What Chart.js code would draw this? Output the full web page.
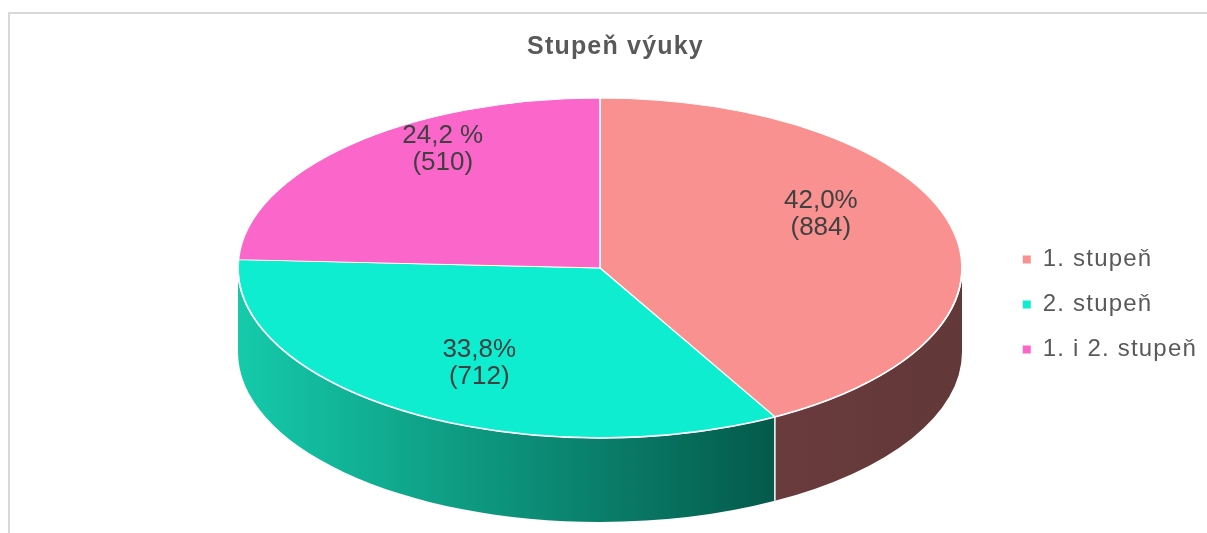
<!DOCTYPE html>
<html>
<head>
<meta charset="utf-8">
<script src="https://cdn.jsdelivr.net/npm/chart.js@4.4.1/dist/chart.umd.min.js"></script>
<style>
  html, body { margin: 0; padding: 0; background: #ffffff; }
  #wrap { position: relative; width: 1207px; height: 533px; overflow: hidden; background: #ffffff; }
  #frame { position: absolute; left: 8px; top: 12px; width: 1400px; height: 800px;
           border-left: 2px solid #d9d9d9; border-top: 2px solid #d9d9d9; }
  #c { position: absolute; left: 0; top: 0; }
</style>
</head>
<body>
<div id="wrap">
  <div id="frame"></div>
  <canvas id="c" width="1207" height="533"></canvas>
</div>
<script>
// ---- data ----
const chartTitle = 'Stupeň výuky';
const categories = ['1. stupeň', '2. stupeň', '1. i 2. stupeň'];
const counts = [884, 712, 510];
const percentLabels = ['42,0%', '33,8%', '24,2 %'];

// ---- styles ----
const topColors = ['#FA9191', '#0FEDD1', '#FB66CA'];
const sideColors = [['#6A3B3D', '#623839'], ['#15CAAA', '#045A4B'], ['#B84A93', '#7A2E62']];
const FONT = '"Liberation Sans", Arial, Helvetica, sans-serif';
const CX = 600, CY = 268, RX = 362, RY = 170, DEPTH = 84;
const K = RY / RX;
const LABEL_FX = 0.63, LABEL_FY = 0.80, LABEL_DY = -20, LABEL_LH = 27;
const TEXT_SPACING = '1.2px';

function visibleSegments(s, e) {
  const segs = [];
  for (let k = -2; k <= 2; k++) {
    const off = k * 2 * Math.PI;
    const a1 = Math.max(s + off, 0), a2 = Math.min(e + off, Math.PI);
    if (a2 > a1) segs.push([a1, a2]);
  }
  return segs;
}
function normAngle(a) {
  let r = a % (2 * Math.PI);
  if (r < 0) r += 2 * Math.PI;
  return r;
}

const pie3d = {
  id: 'pie3d',
  beforeLayout(chart) { chart.ctx.letterSpacing = TEXT_SPACING; },
  beforeDraw(chart) { chart.ctx.letterSpacing = TEXT_SPACING; },
  beforeDatasetsDraw(chart) {
    const ctx = chart.ctx;
    ctx.letterSpacing = '0px';
    const arcs = chart.getDatasetMeta(0).data;
    ctx.save();
    arcs.forEach((arc, i) => {
      visibleSegments(arc.startAngle, arc.endAngle).forEach(([a1, a2]) => {
        const x1 = CX + RX * Math.cos(a1), x2 = CX + RX * Math.cos(a2);
        const g = ctx.createLinearGradient(Math.min(x1, x2), 0, Math.max(x1, x2) + 0.01, 0);
        g.addColorStop(0, sideColors[i][0]);
        g.addColorStop(1, sideColors[i][1]);
        ctx.beginPath();
        ctx.ellipse(CX, CY, RX, RY, 0, a1, a2, false);
        ctx.lineTo(x2, CY + RY * Math.sin(a2) + DEPTH);
        ctx.ellipse(CX, CY + DEPTH, RX, RY, 0, a2, a1, true);
        ctx.closePath();
        ctx.fillStyle = g;
        ctx.fill();
      });
    });
    // white seams where slices meet on the visible wall
    ctx.strokeStyle = '#ffffff';
    ctx.lineWidth = 1.5;
    arcs.forEach(arc => {
      const a = normAngle(arc.startAngle);
      if (a > 0.001 && a < Math.PI - 0.001) {
        const x = CX + RX * Math.cos(a), y = CY + RY * Math.sin(a);
        ctx.beginPath();
        ctx.moveTo(x, y);
        ctx.lineTo(x, y + DEPTH);
        ctx.stroke();
      }
    });
    ctx.restore();
  },
  beforeDatasetDraw(chart, args) {
    const ctx = chart.ctx;
    const arc = args.meta.data[0];
    ctx.save();
    ctx.translate(CX, CY);
    ctx.scale(1, K);
    ctx.translate(-arc.x, -arc.y);
  },
  afterDatasetDraw(chart) {
    chart.ctx.restore();
  },
  afterDatasetsDraw(chart) {
    const ctx = chart.ctx;
    const arcs = chart.getDatasetMeta(0).data;
    ctx.save();
    // white rim on the front edge of the top face
    ctx.strokeStyle = '#ffffff';
    ctx.lineWidth = 1.6;
    ctx.beginPath();
    ctx.ellipse(CX, CY, RX, RY, 0, 0, Math.PI, false);
    ctx.stroke();
    // data labels
    ctx.letterSpacing = '0px';
    ctx.font = '26px ' + FONT;
    ctx.fillStyle = '#404040';
    ctx.textAlign = 'center';
    ctx.textBaseline = 'middle';
    arcs.forEach((arc, i) => {
      const m = (arc.startAngle + arc.endAngle) / 2;
      const x = CX + RX * LABEL_FX * Math.cos(m);
      const y = CY + RY * LABEL_FY * Math.sin(m) + LABEL_DY;
      ctx.fillText(percentLabels[i], x, y - LABEL_LH / 2);
      ctx.fillText('(' + counts[i] + ')', x, y + LABEL_LH / 2);
    });
    ctx.restore();
  }
};

Chart.defaults.font.family = FONT;

new Chart(document.getElementById('c'), {
  type: 'pie',
  data: {
    labels: categories,
    datasets: [{
      data: counts,
      backgroundColor: topColors,
      borderColor: '#ffffff',
      borderWidth: 1.6,
      clip: false
    }]
  },
  options: {
    responsive: false,
    animation: false,
    radius: RX,
    layout: { padding: { left: 24, right: 0, top: 0, bottom: 0 } },
    plugins: {
      tooltip: { enabled: false },
      title: {
        display: true,
        text: chartTitle,
        color: '#595959',
        font: { size: 25, weight: 'bold', family: FONT },
        padding: { top: 32, bottom: 14 }
      },
      legend: {
        position: 'right',
        align: 'center',
        fullSize: false,
        maxWidth: 207,
        labels: {
          boxWidth: 8,
          boxHeight: 8,
          padding: 21,
          color: '#595959',
          font: { size: 24, family: FONT },
          generateLabels: () => categories.map((t, i) => ({
            text: t, fillStyle: topColors[i], strokeStyle: topColors[i],
            lineWidth: 0, hidden: false, index: i, fontColor: '#595959'
          }))
        }
      }
    }
  },
  plugins: [pie3d]
});
</script>
</body>
</html>
